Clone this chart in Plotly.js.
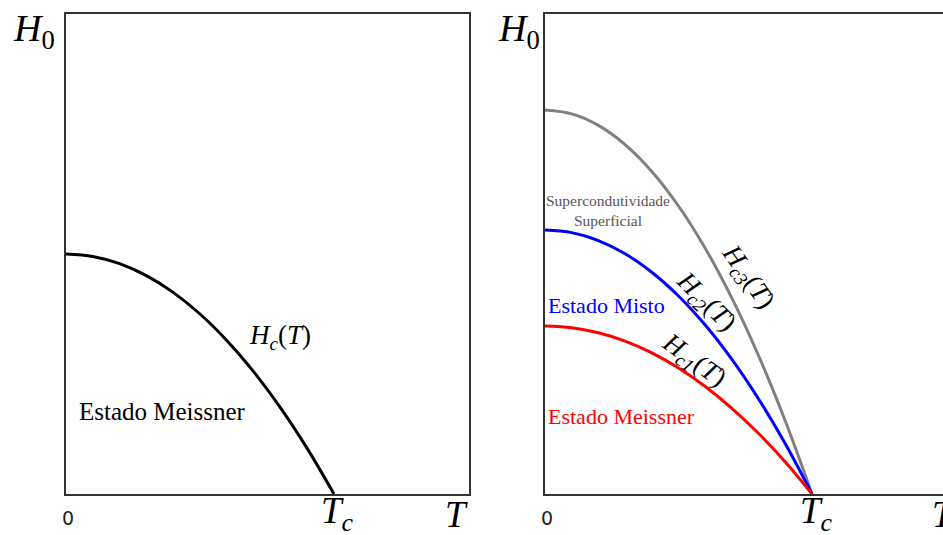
<!DOCTYPE html>
<html>
<head>
<meta charset="utf-8">
<script src="https://cdn.plot.ly/plotly-3.0.1.min.js"></script>
<style>html,body{margin:0;padding:0;background:#fff;}#chart{width:943px;height:535px;}</style>
</head>
<body>
<div id="chart"></div>
<script>
// Reduced temperature T/Tc
const temps = [0, 0.1, 0.2, 0.3, 0.4, 0.5, 0.6, 0.7, 0.8, 0.9, 1.0];
// Left panel: critical field Hc(T) (type I)
const hc = [1.00, 0.99, 0.96, 0.91, 0.84, 0.75, 0.64, 0.51, 0.36, 0.19, 0.00];
// Right panel: type II fields
const hc3 = [1.60, 1.584, 1.536, 1.456, 1.344, 1.20, 1.024, 0.816, 0.576, 0.304, 0.00];
const hc2 = [1.10, 1.089, 1.056, 1.001, 0.924, 0.825, 0.704, 0.561, 0.396, 0.209, 0.00];
const hc1 = [0.70, 0.693, 0.672, 0.637, 0.588, 0.525, 0.448, 0.357, 0.252, 0.133, 0.00];

const serif = "Liberation Serif, Times New Roman, serif";

const traces = [
  {x: temps, y: hc, xaxis: 'x', yaxis: 'y', mode: 'lines', line: {color: '#000', width: 3, shape: 'spline'}, hoverinfo: 'skip'},
  {x: temps, y: hc3, xaxis: 'x2', yaxis: 'y2', mode: 'lines', line: {color: '#808080', width: 3, shape: 'spline'}, hoverinfo: 'skip'},
  {x: temps, y: hc2, xaxis: 'x2', yaxis: 'y2', mode: 'lines', line: {color: '#0000ff', width: 3, shape: 'spline'}, hoverinfo: 'skip'},
  {x: temps, y: hc1, xaxis: 'x2', yaxis: 'y2', mode: 'lines', line: {color: '#ff0000', width: 3, shape: 'spline'}, hoverinfo: 'skip'}
];

const axBase = {showgrid: false, zeroline: false, showticklabels: false, ticks: '', showline: true, linecolor: '#333', linewidth: 2, fixedrange: true};
const yDom = [1 - 494/535, 1 - 14/535];

function ann(x, y, xref, yref, text, size, color, extra) {
  return Object.assign({x: x, y: y, xref: xref, yref: yref, text: text, showarrow: false,
    font: {family: serif, size: size, color: color || '#000'}}, extra || {});
}
const sans = {family: 'DejaVu Sans, sans-serif', size: 19, color: '#222'};

const H0 = '<i>H</i><sub>0</sub>';
const Tc = '<i>T</i><sub><i>c</i></sub>';

const annotations = [
  // Left panel
  ann(0.012, 1 - 31/535, 'paper', 'paper', H0, 38, '#000', {xanchor: 'left', yanchor: 'middle'}),
  ann(0, 1 - 518/535, 'x', 'paper', '0', 19, '#222', {font: sans, xshift: 2, yanchor: 'middle'}),
  ann(1, 1 - 513/535, 'x', 'paper', Tc, 37, '#000', {xshift: 4, yanchor: 'middle'}),
  ann(1.5, 1 - 514/535, 'x', 'paper', '<i>T</i>', 37, '#000', {xanchor: 'right', xshift: 2, yanchor: 'middle'}),
  ann(0.80, 0.655, 'x', 'y', '<i>H</i><sub><i>c</i></sub>(<i>T</i>)', 27),
  ann(0.04, 0.345, 'x', 'y', 'Estado Meissner', 25, '#000', {xanchor: 'left'}),
  // Right panel
  ann(545/943, 1 - 31/535, 'paper', 'paper', H0, 38, '#000', {xanchor: 'right', yanchor: 'middle', xshift: -3}),
  ann(0, 1 - 518/535, 'x2', 'paper', '0', 19, '#222', {font: sans, xshift: 2, yanchor: 'middle'}),
  ann(1, 1 - 513/535, 'x2', 'paper', Tc, 37, '#000', {xshift: 4, yanchor: 'middle'}),
  ann(1.49, 1 - 514/535, 'x2', 'paper', '<i>T</i>', 37, '#000', {xanchor: 'right', xshift: 14, yanchor: 'middle'}),
  ann(0.237, 1.18, 'x2', 'y2', 'Supercondutividade<br>Superficial', 15.5, '#555'),
  ann(0.003, 0.785, 'x2', 'y2', 'Estado Misto', 22, '#0000ff', {xanchor: 'left'}),
  ann(0.003, 0.325, 'x2', 'y2', 'Estado Meissner', 22, '#ff0000', {xanchor: 'left'}),
  ann(0.757, 0.905, 'x2', 'y2', '<i>H</i><sub><i>c3</i></sub>(<i>T</i>)', 27, '#000', {textangle: 55}),
  ann(0.6, 0.80, 'x2', 'y2', '<i>H</i><sub><i>c2</i></sub>(<i>T</i>)', 27, '#000', {textangle: 45}),
  ann(0.555, 0.555, 'x2', 'y2', '<i>H</i><sub><i>c1</i></sub>(<i>T</i>)', 27, '#000', {textangle: 36})
];

const layout = {
  width: 943, height: 535,
  margin: {l: 0, r: 0, t: 0, b: 0},
  paper_bgcolor: '#fff', plot_bgcolor: '#fff',
  showlegend: false,
  xaxis: Object.assign({}, axBase, {domain: [66/943, 469/943], range: [0, 1.504], mirror: true}),
  yaxis: Object.assign({}, axBase, {domain: yDom, range: [0, 2], mirror: true}),
  xaxis2: Object.assign({}, axBase, {domain: [545/943, 1], range: [0, 398/267], mirror: true, anchor: 'y2'}),
  yaxis2: Object.assign({}, axBase, {domain: yDom, range: [0, 2], mirror: false, anchor: 'x2'}),
  annotations: annotations
};

Plotly.newPlot('chart', traces, layout, {staticPlot: true, displayModeBar: false});
</script>
</body>
</html>
